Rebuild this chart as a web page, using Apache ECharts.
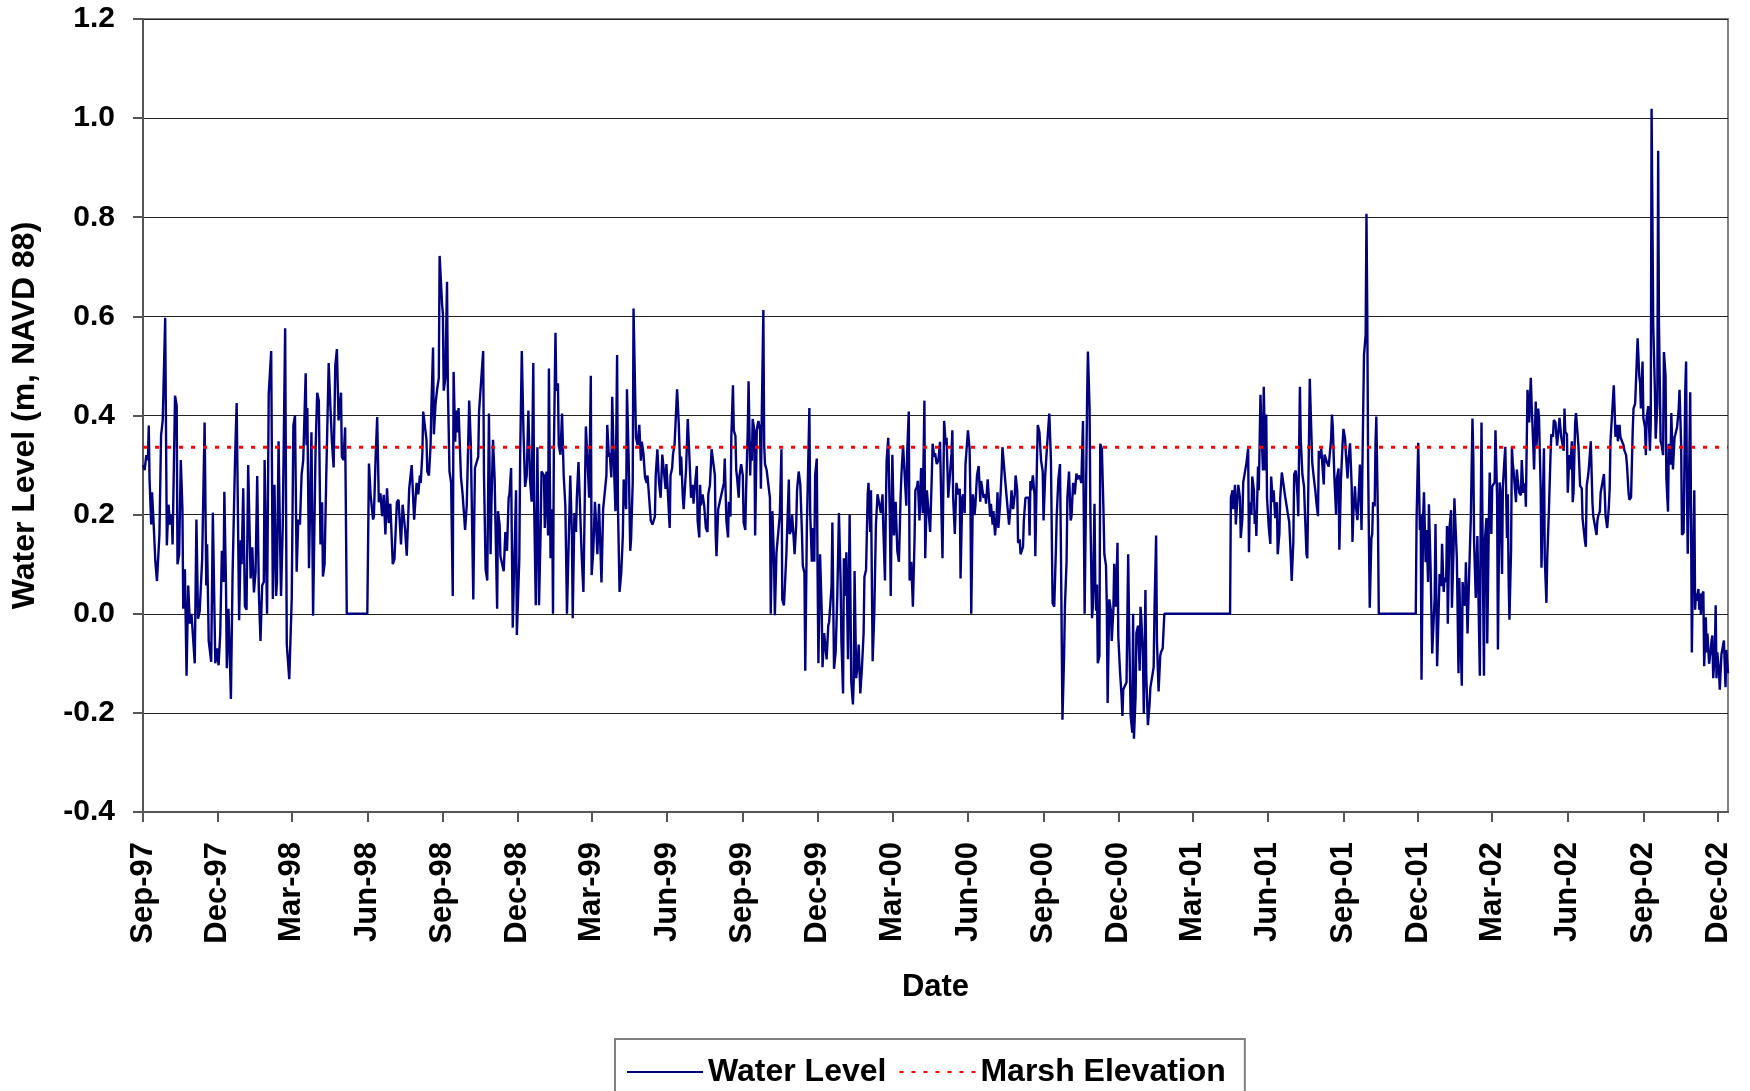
<!DOCTYPE html>
<html lang="en">
<head>
    <meta charset="UTF-8">
    <title>Water Level</title>
    <script src="https://cdn.jsdelivr.net/npm/echarts@6/dist/echarts.min.js"></script>
    <style>
        html, body { margin: 0; padding: 0; background: #fff; }
        #chart { width: 1750px; height: 1091px; }
    </style>
</head>
<body>
    <div id="chart"></div>
<script>
    // first value of each pair = days since 1997-09-01, second = water level (m, NAVD 88)
    var levelSep97 = [[0,0.30],[2,0.29],[4,0.32],[6,0.31],[7,0.38],[8,0.27],[10,0.18],[11,0.245],[13,0.18],[15,0.106],[17,0.066],[20,0.16],[22,0.36],[24,0.39],[27,0.597],[29,0.138],[31,0.22],[33,0.18],[35,0.20],[36,0.14],[39,0.44],[41,0.42],[42,0.10],[44,0.12],[46,0.31],[48,0.21],[49,0.01],[51,0.09],[53,-0.125],[55,0.057],[57,-0.02],[59,0.0],[61,0.0],[63,-0.10],[65,0.19],[67,-0.01],[69,0.005],[72,0.11],[75,0.386],[77,0.057],[78,0.14],[80,-0.055],[83,-0.097],[85,0.204],[88,-0.10],[90,-0.07],[92,-0.104],[94,-0.04],[96,0.127],[98,0.064],[99,0.246],[101,0.057],[102,-0.11],[104,0.01],[106,-0.11],[107,-0.172],[109,0.078],[112,0.31],[114,0.425],[117,-0.013],[119,0.148],[120,0.10],[122,0.253],[124,0.015],[126,0.008],[128,0.30],[131,0.071],[133,0.134],[135,0.043],[137,0.085],[139,0.278],[141,0.043],[143,-0.055],[145,0.057],[147,0.064],[148,0.31],[150,0.092],[151,0.0],[153,0.443],[156,0.53],[158,0.03],[160,0.26],[162,0.036],[163,0.064],[165,0.348],[167,0.127],[168,0.036],[170,0.17],[173,0.576],[175,-0.062],[178,-0.132],[181,0.03],[183,0.38],[185,0.40],[187,0.085],[189,0.19],[191,0.18],[193,0.28],[195,0.31],[198,0.485],[199,0.34],[200,0.415],[202,0.092],[205,0.366],[207,-0.004],[210,0.33],[212,0.446],[214,0.43],[216,0.14],[218,0.225],[219,0.075],[221,0.10],[223,0.275],[226,0.506],[228,0.42],[230,0.345],[232,0.295],[234,0.50],[236,0.534],[238,0.39],[241,0.446],[242,0.317],[244,0.31],[246,0.376],[248,0.0],[273,0.0],[275,0.303],[277,0.24],[280,0.19],[281,0.197],[283,0.31],[285,0.397],[287,0.225],[289,0.243],[291,0.197],[293,0.24],[295,0.16],[297,0.253],[299,0.183],[301,0.222],[304,0.10],[306,0.11],[309,0.225],[311,0.23],[314,0.14],[316,0.22],[319,0.17],[321,0.117],[324,0.253],[327,0.30],[330,0.19],[332,0.24]];

    var levelJul98 = [[333,0.264],[335,0.241],[337,0.279],[338,0.264],[340,0.324],[341,0.408],[343,0.41],[345,0.351],[346,0.287],[348,0.279],[350,0.34],[351,0.419],[353,0.537],[354,0.362],[356,0.423],[358,0.453],[360,0.476],[361,0.722],[363,0.726],[364,0.624],[365,0.605],[366,0.45],[368,0.476],[370,0.67],[371,0.461],[373,0.287],[375,0.264],[377,0.036],[378,0.488],[380,0.347],[381,0.41],[383,0.366],[384,0.415],[386,0.415],[387,0.275],[389,0.241],[391,0.245],[392,0.169],[394,0.218],[397,0.43],[399,0.34],[402,0.029],[403,0.173],[404,0.294],[406,0.298],[408,0.317],[409,0.408],[411,0.41],[414,0.53],[415,0.279],[417,0.089],[419,0.067],[421,0.404],[423,0.12],[424,0.218],[426,0.351],[428,0.271],[429,0.18],[431,0.01],[432,0.207],[434,0.18],[435,0.116],[437,0.116],[439,0.086],[441,0.165],[443,0.127],[445,0.234],[446,0.241],[448,0.294],[450,-0.028],[452,0.112],[454,0.249],[455,-0.043],[458,0.112],[459,0.317],[461,0.53],[463,0.37],[465,0.256],[467,0.279],[469,0.41],[471,0.271],[473,0.226],[475,0.506],[476,0.226],[478,0.017],[480,0.336],[482,0.017],[484,0.173],[485,0.287],[488,0.279],[489,0.173],[491,0.287],[493,0.158],[494,0.495],[496,0.112],[498,0.211],[499,0.0],[500,0.324],[502,0.567],[503,0.45],[505,0.465],[506,0.34],[508,0.321],[510,0.404],[512,0.279],[514,0.218],[516,0.0],[518,0.0],[520,0.279],[522,0.158],[523,-0.009],[525,0.203],[527,0.165],[528,0.234],[530,0.306],[532,0.306],[534,0.112],[536,0.044],[539,0.378],[541,0.309],[543,0.234],[545,0.48],[546,0.078],[548,0.127],[550,0.226],[551,0.196],[553,0.12],[555,0.222],[558,0.063],[560,0.211],[562,0.207],[564,0.279],[565,0.381],[567,0.317],[568,0.324],[570,0.275],[571,0.438],[573,0.309],[575,0.207],[577,0.522],[578,0.218],[580,0.044],[582,0.082],[584,0.158],[585,0.271],[588,0.211],[589,0.453],[591,0.317],[593,0.127],[594,0.15],[596,0.264],[597,0.616],[599,0.613],[600,0.355],[602,0.34],[604,0.381],[606,0.309],[607,0.347],[609,0.324],[611,0.275],[613,0.264],[614,0.279],[616,0.234],[618,0.188],[620,0.18],[623,0.196],[624,0.279],[626,0.332],[628,0.264],[630,0.234],[632,0.321],[634,0.321],[636,0.252],[637,0.302],[639,0.302],[641,0.173],[642,0.279],[644,0.294],[645,0.321],[647,0.343],[649,0.34],[650,0.453],[652,0.385],[654,0.279],[655,0.317],[657,0.234],[658,0.211],[661,0.294],[663,0.393],[665,0.317],[667,0.234]];

    var levelJul99 = [[669,0.26],[670,0.222],[672,0.264],[674,0.298],[675,0.188],[677,0.154],[678,0.26],[679,0.218],[681,0.241],[683,0.218],[685,0.173],[687,0.165],[688,0.241],[690,0.26],[692,0.332],[694,0.334],[696,0.279],[697,0.158],[698,0.116],[700,0.211],[702,0.211],[704,0.241],[705,0.241],[707,0.264],[708,0.313],[710,0.188],[712,0.154],[713,0.226],[715,0.196],[716,0.355],[718,0.461],[719,0.37],[721,0.359],[722,0.29],[723,0.275],[725,0.234],[726,0.279],[728,0.302],[730,0.279],[731,0.184],[733,0.169],[734,0.249],[736,0.37],[737,0.469],[739,0.279],[740,0.347],[741,0.309],[742,0.393],[744,0.37],[745,0.158],[747,0.37],[748,0.381],[749,0.389],[751,0.37],[752,0.252],[753,0.393],[755,0.613],[756,0.34],[757,0.302],[759,0.29],[761,0.294],[763,0.234],[764,0.0],[766,0.207],[768,0.105],[769,-0.003],[771,0.124],[773,0.127],[775,0.199],[777,0.332],[778,0.029],[780,0.017],[781,0.048],[783,0.12],[786,0.271],[787,0.161],[789,0.169],[790,0.199],[792,0.15],[793,0.12],[795,0.18],[796,0.249],[798,0.287],[800,0.26],[802,0.161],[803,0.097],[805,0.082],[806,-0.115],[808,0.18],[811,0.415],[812,0.203],[814,0.105],[815,0.173],[817,0.105],[818,0.279],[820,0.313],[821,0.082],[822,-0.1],[824,0.12],[826,0.006],[827,-0.108],[829,-0.039],[830,-0.039],[832,-0.092],[834,-0.024],[835,-0.017],[837,-0.013],[838,0.055],[839,0.184],[841,-0.111],[843,-0.077],[845,0.036],[847,0.203],[849,0.067],[850,-0.055],[852,-0.161],[853,0.112],[855,0.036],[856,0.124],[858,-0.092],[860,0.199],[862,-0.138],[864,-0.183],[865,-0.134],[866,0.086],[868,-0.13],[870,-0.1],[871,-0.062],[873,-0.161],[875,-0.108],[877,-0.039],[878,0.074],[880,0.089],[882,0.241],[883,0.264],[885,0.165],[886,0.249],[888,-0.096],[890,0.0],[892,0.18],[894,0.241],[896,0.241],[898,0.203],[900,0.241],[901,0.173],[903,0.067],[904,0.203],[905,0.309],[907,0.355],[909,0.188],[910,0.036],[912,0.321],[914,0.158],[916,0.226],[918,0.127],[920,0.105],[922,0.234],[923,0.279],[925,0.34],[927,0.343],[929,0.218],[930,0.324],[932,0.408],[933,0.067],[935,0.105],[937,0.014],[939,0.15],[940,0.249],[942,0.256],[943,0.268],[945,0.188],[947,0.294],[949,0.203],[951,0.43],[952,0.112],[954,0.249],[956,0.249],[958,0.165],[960,0.279],[961,0.343],[963,0.317],[964,0.324],[966,0.302],[968,0.309],[970,0.347],[972,0.188],[973,0.112],[975,0.389],[977,0.34],[978,0.355],[980,0.234],[982,0.279],[984,0.324],[985,0.37],[986,0.234],[988,0.161],[990,0.264],[992,0.241],[994,0.252],[995,0.071],[997,0.234],[998,0.241],[1000,0.203]];

    var levelJun00 = [[1001,0.302],[1003,0.302],[1004,0.37],[1006,0.332],[1007,0.234],[1008,0.0],[1010,0.241],[1012,0.199],[1013,0.218],[1015,0.279],[1017,0.298],[1019,0.226],[1020,0.268],[1021,0.271],[1023,0.234],[1025,0.241],[1026,0.222],[1028,0.271],[1030,0.222],[1031,0.196],[1032,0.222],[1034,0.18],[1035,0.207],[1037,0.158],[1039,0.203],[1040,0.245],[1041,0.173],[1043,0.218],[1045,0.287],[1046,0.336],[1048,0.336],[1050,0.256],[1052,0.252],[1054,0.18],[1056,0.218],[1057,0.249],[1059,0.211],[1061,0.241],[1062,0.279],[1064,0.249],[1065,0.143],[1067,0.15],[1068,0.12],[1069,0.116],[1071,0.135],[1072,0.188],[1074,0.234],[1076,0.237],[1078,0.234],[1079,0.158],[1080,0.268],[1081,0.249],[1083,0.279],[1085,0.241],[1086,0.116],[1088,0.309],[1089,0.381],[1091,0.366],[1093,0.309],[1095,0.287],[1096,0.188],[1098,0.279],[1099,0.306],[1101,0.309],[1102,0.381],[1103,0.404],[1105,0.309],[1107,0.021],[1109,0.014],[1111,0.127],[1112,0.196],[1114,0.271],[1116,0.302],[1117,0.158],[1119,-0.214],[1121,-0.085],[1122,0.014],[1124,0.105],[1125,0.234],[1127,0.287],[1129,0.188],[1130,0.196],[1132,0.264],[1134,0.241],[1136,0.283],[1137,0.271],[1139,0.279],[1141,0.271],[1142,0.264],[1144,0.389],[1145,0.393],[1146,0.0],[1148,0.0],[1149,0.431],[1150,0.529],[1152,0.415],[1153,0.203],[1154,0.199],[1155,-0.009],[1156,0.014],[1158,0.222],[1159,0.059],[1160,0.006],[1161,0.059],[1162,-0.1],[1164,-0.085],[1165,0.343],[1167,0.332],[1169,0.203],[1170,0.12],[1172,0.097],[1173,0.014],[1174,-0.18],[1176,0.029],[1178,0.006],[1179,-0.055],[1181,0.01],[1182,0.101],[1184,0.014],[1186,0.143],[1187,-0.047],[1189,-0.115],[1191,-0.168],[1192,-0.206],[1193,-0.153],[1195,-0.153],[1197,-0.138],[1199,0.12],[1200,-0.009],[1202,-0.206],[1204,-0.24],[1205,0.0],[1206,-0.252],[1208,-0.168],[1209,-0.039],[1211,-0.024],[1213,-0.115],[1214,0.014],[1215,-0.009],[1217,-0.092],[1218,-0.202],[1220,0.048],[1221,-0.123],[1223,-0.225],[1225,-0.183],[1226,-0.149],[1228,-0.149],[1230,-0.108],[1231,0.006],[1233,0.158],[1234,-0.055],[1236,-0.157],[1238,-0.085],[1239,-0.077],[1241,-0.07],[1243,0.0],[1323,0.0],[1324,0.234],[1326,0.249],[1327,0.211],[1329,0.26],[1330,0.18],[1332,0.234],[1333,0.26],[1335,0.234]];

    var levelMay01 = [[1336,0.153],[1338,0.193],[1339,0.265],[1341,0.269],[1343,0.305],[1345,0.333],[1346,0.124],[1347,0.225],[1349,0.201],[1350,0.277],[1352,0.249],[1353,0.181],[1354,0.209],[1355,0.157],[1357,0.297],[1358,0.249],[1360,0.442],[1361,0.386],[1363,0.289],[1364,0.458],[1366,0.289],[1367,0.402],[1368,0.233],[1370,0.177],[1372,0.141],[1373,0.277],[1375,0.225],[1376,0.249],[1378,0.193],[1380,0.225],[1381,0.12],[1383,0.161],[1384,0.233],[1386,0.285],[1388,0.281],[1390,0.237],[1392,0.233],[1393,0.205],[1395,0.185],[1397,0.112],[1398,0.066],[1400,0.145],[1401,0.281],[1403,0.289],[1405,0.241],[1406,0.197],[1408,0.458],[1409,0.353],[1411,0.281],[1413,0.257],[1414,0.209],[1416,0.12],[1417,0.112],[1419,0.345],[1420,0.474],[1422,0.478],[1423,0.305],[1425,0.273],[1427,0.245],[1428,0.225],[1430,0.197],[1431,0.329],[1433,0.313],[1434,0.333],[1435,0.329],[1437,0.261],[1438,0.321],[1440,0.321],[1441,0.305],[1443,0.297],[1444,0.293],[1446,0.353],[1447,0.402],[1448,0.378],[1450,0.273],[1452,0.201],[1453,0.273],[1455,0.293],[1456,0.129],[1458,0.273],[1460,0.345],[1461,0.373],[1463,0.353],[1464,0.321],[1466,0.273],[1467,0.309],[1469,0.344],[1471,0.257],[1472,0.145],[1473,0.201],[1475,0.257],[1476,0.221],[1478,0.189],[1480,0.257],[1481,0.301],[1483,0.169],[1484,0.289],[1486,0.522],[1488,0.562],[1489,0.807],[1490,0.602],[1491,0.305],[1492,0.153],[1493,0.012],[1495,0.153],[1496,0.161],[1497,0.225],[1499,0.217],[1500,0.345],[1501,0.398],[1503,0.185],[1504,0.0],[1549,0.0],[1550,0.193],[1552,0.345],[1554,0.169],[1555,0.201],[1556,-0.133],[1558,0.197],[1559,0.245],[1561,0.104],[1562,0.169],[1564,0.064],[1565,0.221],[1567,0.096],[1569,-0.08],[1570,-0.08],[1572,0.032],[1573,0.181],[1575,-0.106],[1577,0.016],[1578,0.08],[1580,0.056],[1581,0.141],[1583,0.044],[1584,0.072],[1586,0.064],[1587,0.177],[1588,-0.02],[1590,0.173],[1592,0.209],[1593,0.012],[1595,0.129],[1596,0.233],[1598,0.237],[1599,0.112],[1601,-0.12],[1602,0.072],[1603,-0.008],[1605,-0.145],[1606,0.064],[1608,0.016],[1609,0.024],[1610,0.104],[1612,-0.04],[1614,0.08],[1615,0.08],[1616,0.193],[1618,0.394],[1619,0.321],[1620,0.145],[1622,0.032],[1624,0.157],[1625,0.153],[1627,-0.125],[1628,0.193],[1629,0.386],[1631,0.04],[1632,-0.125],[1633,0.145],[1635,0.193],[1636,-0.06],[1638,0.193],[1639,0.285],[1641,0.161],[1642,0.257],[1644,0.261],[1645,0.265],[1646,0.37],[1648,0.233],[1649,-0.072],[1651,0.265],[1652,0.249],[1654,0.08],[1655,0.257],[1657,0.313],[1658,0.337],[1660,0.153],[1661,0.241],[1662,0.072],[1663,-0.012],[1665,0.129],[1666,0.337],[1667,0.305],[1668,0.289]];

    var levelMar02 = [[1669,0.291],[1671,0.225],[1672,0.291],[1673,0.272],[1675,0.244],[1677,0.239],[1678,0.31],[1680,0.244],[1682,0.263],[1683,0.216],[1684,0.339],[1685,0.452],[1687,0.386],[1689,0.476],[1690,0.424],[1692,0.339],[1693,0.291],[1695,0.428],[1696,0.339],[1698,0.414],[1699,0.395],[1701,0.253],[1702,0.093],[1704,0.253],[1705,0.334],[1706,0.112],[1708,0.022],[1709,0.112],[1711,0.206],[1713,0.32],[1714,0.362],[1716,0.357],[1717,0.391],[1719,0.386],[1721,0.339],[1722,0.357],[1724,0.395],[1726,0.357],[1727,0.353],[1729,0.329],[1730,0.414],[1731,0.367],[1733,0.362],[1734,0.244],[1736,0.32],[1737,0.291],[1739,0.348],[1740,0.225],[1741,0.244],[1743,0.386],[1744,0.405],[1746,0.409],[1747,0.339],[1749,0.258],[1751,0.253],[1752,0.192],[1754,0.192],[1755,0.145],[1756,0.135],[1757,0.258],[1759,0.282],[1760,0.301],[1762,0.348],[1763,0.348],[1764,0.225],[1765,0.197],[1767,0.178],[1769,0.159],[1770,0.187],[1771,0.197],[1773,0.206],[1774,0.244],[1776,0.244],[1778,0.282],[1779,0.244],[1780,0.197],[1782,0.173],[1784,0.216],[1785,0.253],[1786,0.348],[1788,0.348],[1790,0.461],[1791,0.414],[1792,0.357],[1794,0.381],[1795,0.348],[1797,0.381],[1798,0.357],[1800,0.348],[1802,0.339],[1803,0.329],[1805,0.32],[1806,0.301],[1808,0.244],[1809,0.23],[1811,0.235],[1813,0.367],[1814,0.414],[1816,0.424],[1817,0.428],[1819,0.556],[1821,0.48],[1822,0.466],[1823,0.414],[1825,0.509],[1826,0.395],[1828,0.376],[1829,0.32],[1830,0.395],[1832,0.419],[1834,0.329],[1835,0.386],[1836,1.019],[1838,0.584],[1840,0.452],[1841,0.353],[1843,0.424],[1844,0.934],[1845,0.584],[1847,0.348],[1848,0.343],[1850,0.32],[1851,0.528],[1853,0.48],[1854,0.272],[1856,0.206],[1857,0.343],[1859,0.301],[1860,0.405],[1862,0.291],[1864,0.357],[1865,0.362],[1867,0.376],[1869,0.414],[1870,0.452],[1872,0.339],[1873,0.159],[1875,0.164],[1877,0.452],[1878,0.509],[1879,0.253],[1880,0.121],[1882,0.32],[1883,0.447],[1884,0.206],[1885,-0.078],[1886,0.05],[1888,0.249],[1889,0.008],[1890,0.041],[1891,0.026],[1893,0.05],[1894,0.008],[1895,0.041],[1896,-0.002],[1897,0.036],[1899,0.045],[1900,-0.106],[1902,-0.007],[1903,-0.078],[1904,-0.04],[1905,-0.04],[1906,-0.101],[1908,-0.073],[1909,-0.054],[1910,-0.044],[1911,-0.13],[1913,-0.078],[1914,0.017],[1915,-0.13],[1916,-0.078],[1918,-0.115],[1919,-0.153],[1921,-0.082],[1923,-0.078],[1924,-0.054],[1926,-0.148],[1927,-0.073],[1929,-0.12]];

    var marshDays = [0, 1929];
    var marshElevation = [0.336, 0.336];

    var tickDates = ['1997-09-01', '1997-12-01', '1998-03-01', '1998-06-01', '1998-09-01', '1998-12-01',
        '1999-03-01', '1999-06-01', '1999-09-01', '1999-12-01', '2000-03-01', '2000-06-01', '2000-09-01',
        '2000-12-01', '2001-03-01', '2001-06-01', '2001-09-01', '2001-12-01', '2002-03-01', '2002-06-01',
        '2002-09-01', '2002-12-01'];
    var monthNames = ['Jan', 'Feb', 'Mar', 'Apr', 'May', 'Jun', 'Jul', 'Aug', 'Sep', 'Oct', 'Nov', 'Dec'];

    var DAY = 86400000;
    var start = Date.UTC(1997, 8, 1);

    // date string -> days since start
    function dayOf(s) {
        var p = s.split('-');
        return Math.round((Date.UTC(+p[0], +p[1] - 1, +p[2]) - start) / DAY);
    }

    var waterData = [].concat(levelSep97, levelJul98, levelJul99, levelJun00, levelMay01, levelMar02);
    var marshData = marshDays.map(function(d, i) { return [d, marshElevation[i]]; });
    var tickDays = tickDates.map(dayOf);

    var fontFam = '"Liberation Sans", Arial, sans-serif';

    var option = {
        animation: false,
        backgroundColor: '#fff',
        grid: {
            left: 143,
            right: 22,
            top: 19,
            bottom: 279,
            show: true,
            borderColor: '#808080',
            borderWidth: 2,
            backgroundColor: 'transparent'
        },
        legend: {
            data: ['Water Level', 'Marsh Elevation'],
            left: 615,
            top: 1039,
            orient: 'horizontal',
            padding: [17, 19, 40, 11],
            itemGap: 12,
            itemWidth: 76,
            itemHeight: 14,
            borderColor: '#808080',
            borderWidth: 2,
            itemStyle: { opacity: 0 },
            textStyle: {
                fontFamily: fontFam,
                fontWeight: 'bold',
                fontSize: 32,
                color: '#000'
            }
        },
        xAxis: {
            type: 'value',
            min: 0,
            max: 1929,
            name: 'Date',
            nameLocation: 'middle',
            nameGap: 160,
            nameTextStyle: {
                fontFamily: fontFam,
                fontWeight: 'bold',
                fontSize: 31,
                color: '#000'
            },
            axisLine: { show: true, onZero: false, lineStyle: { color: '#555', width: 2 } },
            axisTick: {
                show: true,
                length: 10,
                customValues: tickDays,
                lineStyle: { color: '#555', width: 2 }
            },
            axisLabel: {
                show: true,
                rotate: 90,
                margin: 30,
                customValues: tickDays,
                fontFamily: fontFam,
                fontWeight: 'bold',
                fontSize: 31,
                color: '#000',
                formatter: function(v) {
                    var d = new Date(start + v * DAY);
                    return monthNames[d.getUTCMonth()] + '-' + String(d.getUTCFullYear()).slice(2);
                }
            },
            splitLine: { show: false }
        },
        yAxis: {
            type: 'value',
            min: -0.4,
            max: 1.2,
            interval: 0.2,
            name: 'Water Level (m, NAVD 88)',
            nameLocation: 'middle',
            nameGap: 102,
            nameTextStyle: {
                fontFamily: fontFam,
                fontWeight: 'bold',
                fontSize: 32,
                color: '#000'
            },
            axisLine: { show: true, lineStyle: { color: '#555', width: 2 } },
            axisTick: { show: true, length: 10, lineStyle: { color: '#555', width: 2 } },
            axisLabel: {
                margin: 28,
                fontFamily: fontFam,
                fontWeight: 'bold',
                fontSize: 30,
                color: '#000',
                formatter: function(v) { return v.toFixed(1); }
            },
            splitLine: { show: true, lineStyle: { color: '#222', width: 1.2 } }
        },
        series: [{
            name: 'Water Level',
            type: 'line',
            data: waterData,
            symbol: 'none',
            showSymbol: false,
            lineStyle: { color: '#000080', width: 2.4 },
            itemStyle: { color: '#000080' },
            z: 3
        }, {
            name: 'Marsh Elevation',
            type: 'line',
            data: marshData,
            symbol: 'none',
            showSymbol: false,
            lineStyle: { color: '#ff0000', width: 3, type: [4, 8] },
            itemStyle: { color: '#ff0000' },
            z: 4
        }]
    };

    var myChart = echarts.init(document.getElementById('chart'));
    myChart.setOption(option);
</script>
</body>
</html>
